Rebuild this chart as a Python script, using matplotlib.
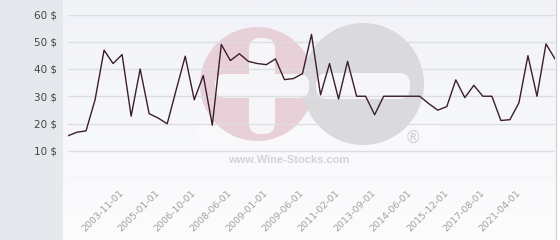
import numpy as np
import matplotlib.pyplot as plt
from matplotlib.patches import Circle, FancyBboxPatch, Rectangle

prices = [15.5, 16.8, 17.3, 28.7, 46.9, 42.0, 45.3, 22.7, 40.0, 23.6,
          22.0, 19.9, 32.4, 44.7, 28.7, 37.6, 19.4, 49.0, 43.1, 45.6,
          42.8, 42.0, 41.6, 43.7, 36.1, 36.5, 38.3, 52.7, 30.5, 42.0,
          29.0, 42.8, 30.0, 30.0, 23.2, 30.0, 30.0, 30.0, 30.0, 30.0,
          27.3, 24.9, 26.2, 36.0, 29.5, 34.0, 30.0, 30.0, 21.1, 21.4,
          27.6, 44.9, 30.0, 49.2, 43.7]
tick_idx = [6, 10, 14, 18, 22, 26, 30, 34, 38, 42, 46, 50]
tick_dates = ['2003-11-01', '2005-01-01', '2006-10-01', '2008-06-01',
              '2009-01-01', '2009-06-01', '2011-02-01', '2013-09-01',
              '2014-06-01', '2015-12-01', '2017-08-01', '2021-04-01']
y_ticks = [0, 10, 20, 30, 40, 50, 60]
y_labels = ['' if v == 0 else f'{v} $' for v in y_ticks]

W, H = 560, 240
fig = plt.figure(figsize=(W / 100, H / 100), dpi=100, facecolor='white')

# background + watermark layer in pixel coords
bg = fig.add_axes([0, 0, 1, 1], zorder=0)
bg.set_xlim(0, W)
bg.set_ylim(H, 0)
bg.axis('off')
bg.add_patch(Rectangle((0, 0), 63, H, color='#e5e9ed', lw=0))
grad = np.linspace(0, 1, 100)[:, None]
bg.imshow(grad, extent=(63, 556, H, 0), aspect='auto',
          cmap=plt.matplotlib.colors.LinearSegmentedColormap.from_list(
              'bgc', ['#f2f3f8', '#fcfcfd']), zorder=0)
bg.plot([556, 556], [0, H], color='#d4d6da', lw=1, zorder=1)

bg.add_patch(Rectangle((195, 122), 245, 50, color='white', alpha=0.25, lw=0, zorder=1))
bg.add_patch(Circle((257, 84), 57, color='#e8d0d8', lw=0, zorder=2))
bg.add_patch(Circle((363, 84), 61, color='#dadadc', lw=0, zorder=2))
bg.add_patch(FancyBboxPatch((251, 40), 22, 92, boxstyle='round,pad=2,rounding_size=11',
                            color='#f6f6f8', lw=0, zorder=3))
bg.add_patch(FancyBboxPatch((217, 76), 90, 20, boxstyle='round,pad=2,rounding_size=10',
                            color='#f6f6f8', lw=0, zorder=3))
bg.add_patch(FancyBboxPatch((318, 75), 90, 22, boxstyle='round,pad=2,rounding_size=11',
                            color='#f6f6f8', lw=0, zorder=3))
bg.text(289, 160, 'www.Wine-Stocks.com', fontsize=8, fontweight='bold',
        family='Liberation Sans', color='#d3d3d5', ha='center', va='center', zorder=3)
bg.text(413, 138, '\u00ae', fontsize=12, color='#d3d3d5', ha='center', va='center', zorder=3)

# main chart
ax = fig.add_axes([68 / W, 1 - 178 / H, (555 - 68) / W, (178 - 14.5) / H], zorder=1)
ax.set_facecolor('none')
ax.plot(range(len(prices)), prices, color='#3b1e2b', lw=1.0)
ax.set_xlim(0, len(prices) - 1)
ax.set_ylim(0, 60)

ax.set_yticks(y_ticks)
ax.set_yticklabels(y_labels, fontsize=7.5, color='#444444')
ax.set_xticks(tick_idx)
ax.set_xticklabels(tick_dates, fontsize=6.8, color='#a0a0a0', rotation=45,
                   ha='right', va='center', rotation_mode='anchor')
ax.tick_params(axis='both', length=0)
ax.tick_params(axis='y', pad=8)
ax.tick_params(axis='x', pad=10)
ax.grid(axis='y', color='#dcdee2', lw=1)
ax.set_axisbelow(True)
for s in ax.spines.values():
    s.set_visible(False)

fig.savefig('out.png', dpi=100)
plt.close()
